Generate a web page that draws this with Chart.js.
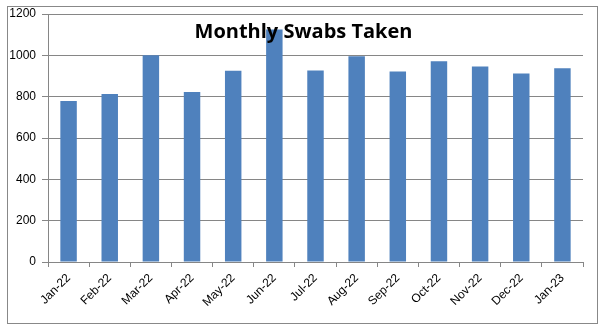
<!DOCTYPE html>
<html>
<head>
<meta charset="utf-8">
<script src="https://cdn.jsdelivr.net/npm/chart.js@4/dist/chart.umd.min.js"></script>
<style>
  html, body { margin: 0; padding: 0; background: #fff; }
  #wrap { width: 607px; height: 329px; }
</style>
</head>
<body>
<div id="wrap"><canvas id="c" width="607" height="329"></canvas></div>
<script>
// Monthly swab counts
const months = ['Jan-22','Feb-22','Mar-22','Apr-22','May-22','Jun-22','Jul-22','Aug-22','Sep-22','Oct-22','Nov-22','Dec-22','Jan-23'];
const swabs = [779, 813, 1000, 823, 925, 1125, 927, 995, 922, 971, 946, 912, 937];
const yTicks = [0, 200, 400, 600, 800, 1000, 1200];
const chartTitle = 'Monthly Swabs Taken';

const gridGray = '#868686';
const labelFont = { family: 'Liberation Sans, Arial, sans-serif', size: 12 };

// Outer frame around the whole chart, plus the overlaid title
const framePlugin = {
  id: 'frame',
  beforeDraw(chart) {
    const ctx = chart.ctx;
    ctx.save();
    ctx.fillStyle = '#fff';
    ctx.fillRect(0, 0, chart.width, chart.height);
    ctx.strokeStyle = '#888';
    ctx.lineWidth = 1;
    ctx.strokeRect(7.5, 6.5, 590, 317);
    ctx.restore();
  },
  afterDraw(chart) {
    const ctx = chart.ctx;
    const area = chart.chartArea;
    ctx.save();
    ctx.fillStyle = '#000';
    ctx.font = 'bold 20px "Open Sans", "Liberation Sans", sans-serif';
    ctx.textAlign = 'center';
    ctx.textBaseline = 'middle';
    ctx.fillText(chartTitle, (area.left + area.right) / 2 - 12, 32);
    ctx.restore();
  }
};

new Chart(document.getElementById('c'), {
  type: 'bar',
  data: {
    labels: months,
    datasets: [{
      data: swabs,
      backgroundColor: '#4F81BD',
      borderWidth: 0,
      barPercentage: 0.4,
      categoryPercentage: 1.0
    }]
  },
  options: {
    responsive: false,
    animation: false,
    devicePixelRatio: 1,
    layout: { padding: { left: 0, right: 24, top: 14, bottom: 0 } },
    plugins: {
      legend: { display: false },
      title: { display: false },
      tooltip: { enabled: false }
    },
    scales: {
      x: {
        grid: {
          offset: true,
          drawOnChartArea: false,
          drawTicks: true,
          tickLength: 5,
          color: gridGray
        },
        border: { color: gridGray },
        ticks: {
          color: '#000',
          font: labelFont,
          maxRotation: 45,
          minRotation: 45,
          autoSkip: false,
          padding: 4
        },
        afterFit(scale) { scale.height = 67; }
      },
      y: {
        min: 0,
        max: 1200,
        afterBuildTicks(scale) { scale.ticks = yTicks.map(v => ({ value: v })); },
        grid: {
          color: gridGray,
          tickLength: 6,
          drawTicks: true
        },
        border: { color: gridGray },
        ticks: {
          color: '#000',
          font: labelFont,
          padding: 6,
          callback: (v) => String(v)
        },
        afterFit(scale) { scale.width = 48; }
      }
    }
  },
  plugins: [framePlugin]
});
</script>
</body>
</html>
